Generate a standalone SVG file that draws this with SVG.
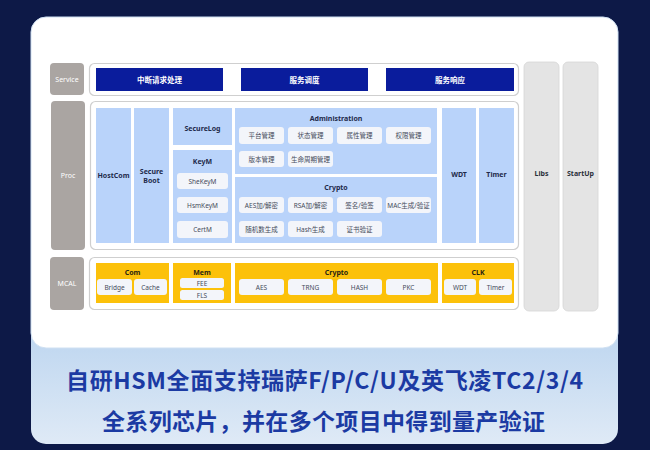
<svg xmlns="http://www.w3.org/2000/svg" width="650" height="450" viewBox="0 0 650 450">
<defs>
<linearGradient id="panelGrad" x1="0" y1="0" x2="0" y2="1">
<stop offset="0" stop-color="#b4d0ee"/>
<stop offset="1" stop-color="#dfeaf6"/>
</linearGradient>
</defs>
<style>
text{font-family:"Noto Sans","Noto Sans CJK SC",sans-serif;text-anchor:middle;dominant-baseline:central}
.lbl{fill:#aaa5a2}
.lbltx{fill:#ffffff;font-size:7px}
.outer{fill:#ffffff;stroke:#cfcfcf;stroke-width:1.2}
.svc{fill:#0a1c9c}
.svctx{fill:#ffffff;font-size:7.5px;font-weight:bold}
.lb{fill:#b9d3fa}
.lbtx{fill:#1e2a4a;font-size:7px;font-weight:bold}
.cell{fill:#f3f5fa}
.celltx{fill:#454b5a;font-size:6.5px}
.side{fill:#e4e4e4;stroke:#d6d6d6;stroke-width:0.8}
.sidetx{fill:#2a2f3a;font-size:7px;font-weight:bold}
.yl{fill:#fcc10a}
.yltx{fill:#2a2410;font-size:7px;font-weight:bold}
.foot{fill:#1b3aa3;font-size:23px;font-weight:bold;font-family:"Noto Sans CJK SC","Noto Sans",sans-serif}
</style>
<rect x="0" y="0" width="650" height="450" fill="#0d1947"/>
<rect x="31" y="300" width="587" height="144" rx="15" fill="url(#panelGrad)"/>
<rect x="31" y="17" width="587" height="331" rx="15" fill="#ffffff" stroke="#cfe0f2" stroke-width="1"/>

<g id="service-label"><rect class="lbl" x="50" y="63" width="34" height="32" rx="4"/><text class="lbltx" x="67" y="79">Service</text></g>
<g id="service-layer">
<rect class="outer" x="89.5" y="63.5" width="429" height="32" rx="5"/>
<g id="svc-irq"><rect class="svc" x="96" y="68" width="127" height="23"/><text class="svctx" x="159.5" y="79.5">中断请求处理</text></g>
<g id="svc-sched"><rect class="svc" x="241" y="68" width="127" height="23"/><text class="svctx" x="304.5" y="79.5">服务调度</text></g>
<g id="svc-resp"><rect class="svc" x="386" y="68" width="128" height="23"/><text class="svctx" x="450" y="79.5">服务响应</text></g>
</g>

<g id="proc-label"><rect class="lbl" x="51" y="101" width="34" height="149" rx="4"/><text class="lbltx" x="68" y="175">Proc</text></g>
<g id="proc-layer">
<rect class="outer" x="90.5" y="101.5" width="428" height="148" rx="5"/>
<g id="hostcom"><rect class="lb" x="96" y="108" width="35" height="135"/><text class="lbtx" x="113.5" y="175.5">HostCom</text></g>
<g id="secureboot"><rect class="lb" x="134" y="108" width="35" height="135"/><text class="lbtx" x="151.5" y="171">Secure</text><text class="lbtx" x="151.5" y="180">Boot</text></g>
<g id="securelog"><rect class="lb" x="173" y="108" width="59" height="37"/><text class="lbtx" x="202.5" y="128">SecureLog</text></g>
<g id="keym"><rect class="lb" x="173" y="150" width="59" height="93"/><text class="lbtx" x="202.5" y="161.5">KeyM</text>
<rect class="cell" x="177" y="173" width="51" height="16" rx="3"/><text class="celltx" x="202.5" y="181">SheKeyM</text>
<rect class="cell" x="177" y="197" width="51" height="16" rx="3"/><text class="celltx" x="202.5" y="205">HsmKeyM</text>
<rect class="cell" x="177" y="221" width="51" height="17" rx="3"/><text class="celltx" x="202.5" y="229.5">CertM</text>
</g>
<g id="administration"><rect class="lb" x="235" y="108" width="202" height="66"/><text class="lbtx" x="336" y="118">Administration</text>
<rect class="cell" x="239" y="127" width="45" height="17" rx="3"/><text class="celltx" x="261.5" y="135.5">平台管理</text>
<rect class="cell" x="288" y="127" width="45" height="17" rx="3"/><text class="celltx" x="310.5" y="135.5">状态管理</text>
<rect class="cell" x="337" y="127" width="45" height="17" rx="3"/><text class="celltx" x="359.5" y="135.5">属性管理</text>
<rect class="cell" x="386" y="127" width="45" height="17" rx="3"/><text class="celltx" x="408.5" y="135.5">权限管理</text>
<rect class="cell" x="239" y="151" width="45" height="16" rx="3"/><text class="celltx" x="261.5" y="159">版本管理</text>
<rect class="cell" x="288" y="151" width="45" height="16" rx="3"/><text class="celltx" x="310.5" y="159">生命周期管理</text>
</g>
<g id="crypto-proc"><rect class="lb" x="235" y="177" width="202" height="66"/><text class="lbtx" x="336" y="187">Crypto</text>
<rect class="cell" x="239" y="197" width="45" height="16" rx="3"/><text class="celltx" x="261.5" y="205">AES加/解密</text>
<rect class="cell" x="288" y="197" width="45" height="16" rx="3"/><text class="celltx" x="310.5" y="205">RSA加/解密</text>
<rect class="cell" x="337" y="197" width="45" height="16" rx="3"/><text class="celltx" x="359.5" y="205">签名/验签</text>
<rect class="cell" x="386" y="197" width="45" height="16" rx="3"/><text class="celltx" x="408.5" y="205">MAC生成/验证</text>
<rect class="cell" x="239" y="221" width="45" height="16" rx="3"/><text class="celltx" x="261.5" y="229">随机数生成</text>
<rect class="cell" x="288" y="221" width="45" height="16" rx="3"/><text class="celltx" x="310.5" y="229">Hash生成</text>
<rect class="cell" x="337" y="221" width="45" height="16" rx="3"/><text class="celltx" x="359.5" y="229">证书验证</text>
</g>
<g id="wdt-proc"><rect class="lb" x="442" y="108" width="34" height="135"/><text class="lbtx" x="459" y="174">WDT</text></g>
<g id="timer-proc"><rect class="lb" x="479" y="108" width="35" height="135"/><text class="lbtx" x="496.5" y="174">Timer</text></g>
</g>

<g id="libs"><rect class="side" x="524" y="62" width="35" height="249" rx="5"/><text class="sidetx" x="541.5" y="173">Libs</text></g>
<g id="startup"><rect class="side" x="563" y="62" width="35" height="249" rx="5"/><text class="sidetx" x="580.5" y="173">StartUp</text></g>

<g id="mcal-label"><rect class="lbl" x="50" y="257" width="34" height="53" rx="4"/><text class="lbltx" x="67" y="283.5">MCAL</text></g>
<g id="mcal-layer">
<rect class="outer" x="89.5" y="257.5" width="429" height="52" rx="5"/>
<g id="com"><rect class="yl" x="96" y="263" width="73" height="40"/><text class="yltx" x="132.5" y="272">Com</text>
<rect class="cell" x="97" y="279" width="35" height="16" rx="3"/><text class="celltx" x="114.5" y="287">Bridge</text>
<rect class="cell" x="134" y="279" width="33" height="16" rx="3"/><text class="celltx" x="150.5" y="287">Cache</text>
</g>
<g id="mem"><rect class="yl" x="173" y="263" width="58" height="40"/><text class="yltx" x="202" y="272">Mem</text>
<rect class="cell" x="180" y="278" width="44" height="10" rx="2.5"/><text class="celltx" x="202" y="283">FEE</text>
<rect class="cell" x="180" y="290" width="44" height="10" rx="2.5"/><text class="celltx" x="202" y="295">FLS</text>
</g>
<g id="crypto-mcal"><rect class="yl" x="235" y="263" width="203" height="40"/><text class="yltx" x="336.5" y="272">Crypto</text>
<rect class="cell" x="239" y="279" width="45" height="16" rx="3"/><text class="celltx" x="261.5" y="287">AES</text>
<rect class="cell" x="288" y="279" width="45" height="16" rx="3"/><text class="celltx" x="310.5" y="287">TRNG</text>
<rect class="cell" x="337" y="279" width="45" height="16" rx="3"/><text class="celltx" x="359.5" y="287">HASH</text>
<rect class="cell" x="386" y="279" width="45" height="16" rx="3"/><text class="celltx" x="408.5" y="287">PKC</text>
</g>
<g id="clk"><rect class="yl" x="442" y="263" width="72" height="40"/><text class="yltx" x="478" y="272">CLK</text>
<rect class="cell" x="444" y="279" width="32" height="16" rx="3"/><text class="celltx" x="460" y="287">WDT</text>
<rect class="cell" x="479" y="279" width="33" height="16" rx="3"/><text class="celltx" x="495.5" y="287">Timer</text>
</g>
</g>

<g id="footer">
<text class="foot" x="324.5" y="379" textLength="517" lengthAdjust="spacing">自研HSM全面支持瑞萨F/P/C/U及英飞凌TC2/3/4</text>
<text class="foot" x="323.5" y="420" textLength="443" lengthAdjust="spacing">全系列芯片，并在多个项目中得到量产验证</text>
</g>
<g id="connectors"/>
</svg>
